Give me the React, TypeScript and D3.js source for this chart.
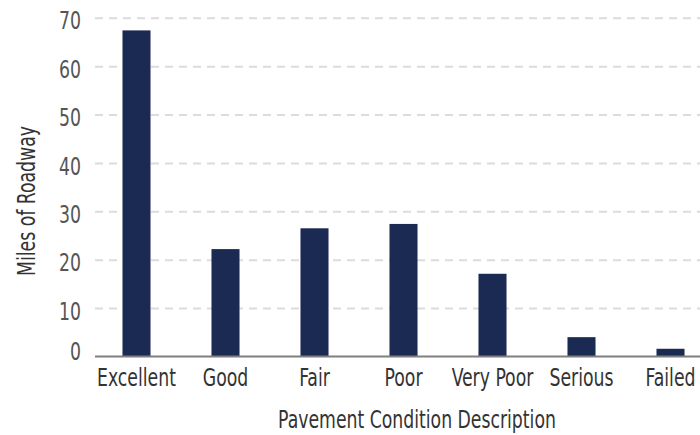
import React, { useEffect, useRef } from 'react';
import * as d3 from 'd3';

const categories = ['Excellent', 'Good', 'Fair', 'Poor', 'Very Poor', 'Serious', 'Failed'];
const miles = [67.5, 22.3, 26.6, 27.5, 17.2, 4.1, 1.7];
const yTicks = [0, 10, 20, 30, 40, 50, 60, 70];

const FONT = "'DejaVu Sans Condensed', 'Liberation Sans Narrow', sans-serif";
const FS = 24;
const SQUEEZE = 0.8; // condensed look of the original typeface

const App = () => {
  const ref = useRef<SVGSVGElement>(null);

  useEffect(() => {
    const width = 700;
    const svg = d3.select(ref.current);
    svg.selectAll('*').remove();

    const x = d3.scaleBand<string>()
      .domain(categories)
      .range([92, 715])
      .paddingInner(0.685)
      .paddingOuter(0.3425);

    const y = d3.scaleLinear().domain([0, 70]).range([357, 18.3]);

    // gridlines
    svg.append('g')
      .selectAll('line')
      .data(yTicks.filter(d => d > 0))
      .enter()
      .append('line')
      .attr('x1', 95)
      .attr('x2', width)
      .attr('y1', d => y(d))
      .attr('y2', d => y(d))
      .attr('stroke', '#dcdcdc')
      .attr('stroke-width', 2)
      .attr('stroke-dasharray', '8,6');

    // y tick labels
    svg.append('g')
      .selectAll('text')
      .data(yTicks)
      .enter()
      .append('text')
      .attr('transform', d => `translate(81, ${d === 0 ? y(d) - 6 : y(d) + 2.5}) scale(${SQUEEZE},1)`)
      .attr('dy', '0.36em')
      .attr('text-anchor', 'end')
      .attr('font-family', FONT)
      .attr('font-size', FS)
      .attr('fill', '#555')
      .text(d => d);

    // bars
    svg.append('g')
      .selectAll('rect')
      .data(miles)
      .enter()
      .append('rect')
      .attr('x', (d, i) => x(categories[i])!)
      .attr('y', d => y(d))
      .attr('width', x.bandwidth())
      .attr('height', d => y(0) - y(d))
      .attr('fill', '#1b2a52');

    // baseline
    svg.append('line')
      .attr('x1', 95)
      .attr('x2', width)
      .attr('y1', y(0) - 0.5)
      .attr('y2', y(0) - 0.5)
      .attr('stroke', '#7f7f7f')
      .attr('stroke-width', 2);

    // x labels
    svg.append('g')
      .selectAll('text')
      .data(categories)
      .enter()
      .append('text')
      .attr('transform', d => `translate(${x(d)! + x.bandwidth() / 2}, 386) scale(${SQUEEZE},1)`)
      .attr('text-anchor', 'middle')
      .attr('font-family', FONT)
      .attr('font-size', FS)
      .attr('fill', '#333')
      .text(d => d);

    // axis titles
    svg.append('text')
      .attr('transform', `translate(417, 428) scale(${SQUEEZE},1)`)
      .attr('text-anchor', 'middle')
      .attr('font-family', FONT)
      .attr('font-size', FS)
      .attr('fill', '#333')
      .text('Pavement Condition Description');

    svg.append('text')
      .attr('transform', `translate(35, 201) rotate(-90) scale(${SQUEEZE},1)`)
      .attr('text-anchor', 'middle')
      .attr('font-family', FONT)
      .attr('font-size', FS)
      .attr('fill', '#333')
      .text('Miles of Roadway');
  }, []);

  return (
    <svg
      ref={ref}
      width={700}
      height={435}
      style={{ position: 'absolute', left: 0, top: 0, background: '#fff' }}
    />
  );
};

export default App;
